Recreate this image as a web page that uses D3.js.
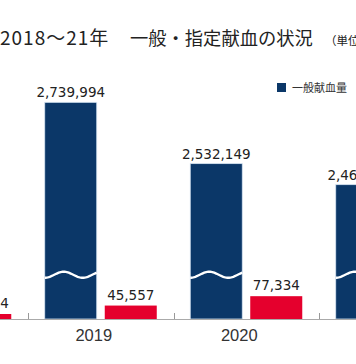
<!DOCTYPE html>
<html><head><meta charset="utf-8">
<script src="https://cdn.jsdelivr.net/npm/d3@7"></script>
<style>html,body{margin:0;padding:0;background:#fff;overflow:hidden}</style>
</head><body>
<svg id="c" width="356" height="364"></svg>
<script>
const years = ["2018","2019","2020","2021"];
const general = [2853310, 2739994, 2532149, 2460873];
const designated = [16954, 45557, 77334, 62218];
const seriesNames = ["一般献血量","指定献血量"];
const titleParts = ["2018～21年", "一般・指定献血の状況"];
const unitText = "（単位：人）";
const breakCut = 2005500;   // amount removed from general bars (axis break)
const breakAt = 150000;     // where the wavy break is drawn (in displayed units)

const svg = d3.select("#c");
const W = 356, baseY = 319;
const blue = "#0b3768", red = "#e5002d";

const x = d3.scaleBand().domain(years).range([-117.5, 464.5]).paddingInner(0).paddingOuter(0);
const sub = d3.scaleBand().domain(seriesNames).range([0, x.bandwidth()]).paddingInner(0.1333).paddingOuter(0.279);
const y = d3.scaleLinear().domain([0, 800000]).range([baseY, baseY - 236]);

// title
const t = svg.append("text").attr("y", 45)
  .attr("font-family", "'Noto Sans CJK JP', sans-serif").attr("fill", "#222");
t.append("tspan").attr("x", 0).attr("font-size", 19).attr("letter-spacing", 1).text(titleParts[0]);
t.append("tspan").attr("x", 130).attr("font-size", 18.3).text(titleParts[1]);
svg.append("text").attr("x", 325).attr("y", 45)
  .attr("font-family", "'Noto Sans CJK JP', sans-serif").attr("font-size", 11.5)
  .attr("fill", "#222").text(unitText);

// legend
svg.append("rect").attr("x", 277).attr("y", 83).attr("width", 9).attr("height", 9).attr("fill", blue);
svg.append("text").attr("x", 292).attr("y", 92)
  .attr("font-family", "'Noto Sans CJK JP', sans-serif").attr("font-size", 11)
  .attr("fill", "#333").text(seriesNames[0]);

const g = svg.append("g");
years.forEach((yr, i) => {
  const gx = x(yr);
  // general (broken)
  const bx = gx + sub(seriesNames[0]), bw = sub.bandwidth();
  const gv = general[i] - breakCut;
  g.append("rect").attr("x", bx).attr("y", y(gv)).attr("width", bw).attr("height", baseY - y(gv))
    .attr("fill", blue).attr("stroke", "#d6e4f2").attr("stroke-width", 0.8);
  // wavy break
  const wy = y(breakAt);
  const pts = d3.range(0, bw + 0.5, 1).map(d => [bx + d, wy + 3 * Math.cos(2 * Math.PI * d / 38)]);
  g.append("path").attr("d", d3.line()(pts)).attr("fill", "none").attr("stroke", "#fff").attr("stroke-width", 2.4);
  g.append("text").attr("x", bx + bw / 2).attr("y", y(gv) - 5).attr("text-anchor", "middle")
    .attr("font-family", "'DejaVu Sans', sans-serif").attr("font-size", 13.5).attr("fill", "#222")
    .text(d3.format(",")(general[i]));
  // designated
  const rx = gx + sub(seriesNames[1]);
  g.append("rect").attr("x", rx).attr("y", y(designated[i])).attr("width", bw).attr("height", baseY - y(designated[i]))
    .attr("fill", red);
  g.append("text").attr("x", rx + bw / 2).attr("y", y(designated[i]) - 6).attr("text-anchor", "middle")
    .attr("font-family", "'DejaVu Sans', sans-serif").attr("font-size", 13.5).attr("fill", "#222")
    .text(d3.format(",")(designated[i]));
  // year label
  g.append("text").attr("x", gx + x.bandwidth() / 2 - 7).attr("y", 341).attr("text-anchor", "middle")
    .attr("font-family", "'Liberation Sans', Arial, sans-serif").attr("font-size", 16.5).attr("fill", "#333")
    .text(yr);
});

// axis line and inward ticks
svg.append("line").attr("x1", 0).attr("x2", W).attr("y1", baseY + 0.5).attr("y2", baseY + 0.5)
  .attr("stroke", "#aaa").attr("stroke-width", 1);
years.concat(["end"]).forEach((yr, i) => {
  const tx = Math.round(x.range()[0] + i * x.step()) + 0.5;
  svg.append("line").attr("x1", tx).attr("x2", tx).attr("y1", baseY - 6).attr("y2", baseY)
    .attr("stroke", "#999").attr("stroke-width", 1);
});
</script>
</body></html>
